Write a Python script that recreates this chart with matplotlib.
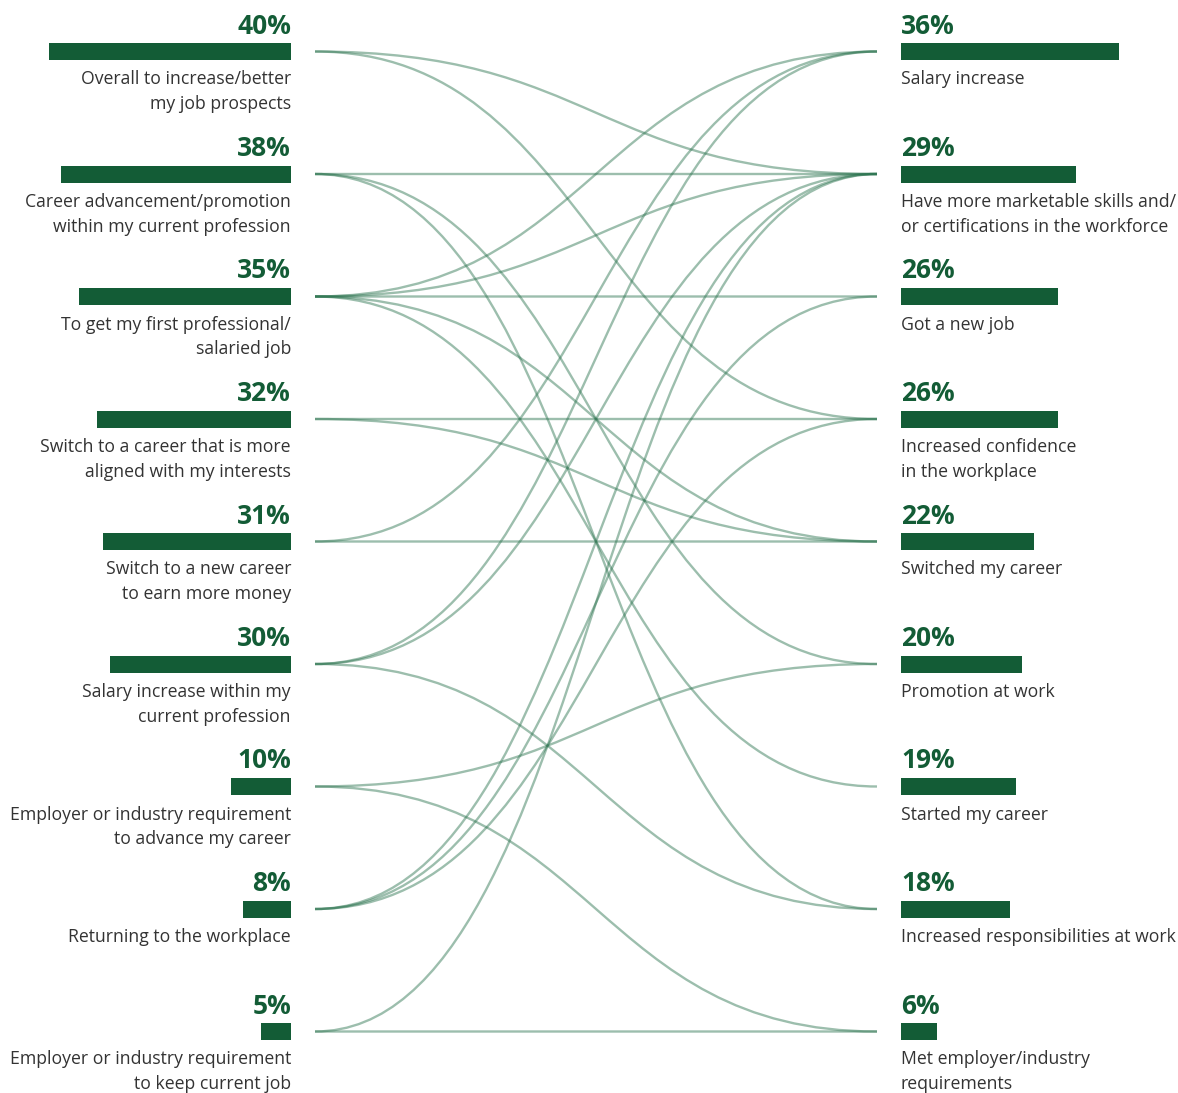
import matplotlib
matplotlib.use("Agg")
import matplotlib.pyplot as plt
from matplotlib.path import Path
from matplotlib.patches import PathPatch

plt.rcParams['font.family'] = ['Open Sans', 'DejaVu Sans']

# motivations (left) and outcomes (right), shares in percent
reasons = [
    "Overall to increase/better\nmy job prospects",
    "Career advancement/promotion\nwithin my current profession",
    "To get my first professional/\nsalaried job",
    "Switch to a career that is more\naligned with my interests",
    "Switch to a new career\nto earn more money",
    "Salary increase within my\ncurrent profession",
    "Employer or industry requirement\nto advance my career",
    "Returning to the workplace",
    "Employer or industry requirement\nto keep current job",
]
reason_pct = [40, 38, 35, 32, 31, 30, 10, 8, 5]

outcomes = [
    "Salary increase",
    "Have more marketable skills and/\nor certifications in the workforce",
    "Got a new job",
    "Increased confidence\nin the workplace",
    "Switched my career",
    "Promotion at work",
    "Started my career",
    "Increased responsibilities at work",
    "Met employer/industry\nrequirements",
]
outcome_pct = [36, 29, 26, 26, 22, 20, 19, 18, 6]

# which motivation links to which outcome (index pairs)
links = [
    (0, 1), (0, 3),
    (1, 1), (1, 5), (1, 7),
    (2, 0), (2, 1), (2, 2), (2, 4), (2, 6),
    (3, 3), (3, 4),
    (4, 4), (4, 0),
    (5, 0), (5, 1), (5, 7),
    (6, 5), (6, 8),
    (7, 1), (7, 2), (7, 3),
    (8, 1), (8, 8),
]

GREEN = "#135c36"
TEXT = "#333333"
LINK = "#2e7551"

W, H = 1178, 1093
fig = plt.figure(figsize=(W / 100, H / 100), dpi=100)
ax = fig.add_axes([0, 0, 1, 1])
ax.set_xlim(0, W)
ax.set_ylim(H, 0)
ax.axis("off")

row0, step = 51.5, 122.5
px_per_pct = 6.05
bar_h = 17
left_edge, right_edge = 291, 901
link_x0, link_x1 = 315, 877


def row_y(i):
    return row0 + i * step


# bars, values and labels
for i, (lab, p) in enumerate(zip(reasons, reason_pct)):
    y = row_y(i)
    w = p * px_per_pct
    ax.barh(y, w, height=bar_h, left=left_edge - w, color=GREEN)
    ax.text(left_edge, y - 18, f"{p}%", ha="right", va="baseline",
            fontsize=19, fontweight="bold", color=GREEN)
    ax.text(left_edge, y + 19, lab, ha="right", va="top",
            fontsize=12.7, color=TEXT, linespacing=1.48)

for i, (lab, p) in enumerate(zip(outcomes, outcome_pct)):
    y = row_y(i)
    ax.barh(y, p * px_per_pct, height=bar_h, left=right_edge, color=GREEN)
    ax.text(right_edge, y - 18, f"{p}%", ha="left", va="baseline",
            fontsize=19, fontweight="bold", color=GREEN)
    ax.text(right_edge, y + 19, lab, ha="left", va="top",
            fontsize=12.7, color=TEXT, linespacing=1.48)

# s-shaped connectors
xm = (link_x0 + link_x1) / 2
for a, b in links:
    ya, yb = row_y(a), row_y(b)
    verts = [(link_x0, ya), (xm, ya), (xm, yb), (link_x1, yb)]
    codes = [Path.MOVETO, Path.CURVE4, Path.CURVE4, Path.CURVE4]
    ax.add_patch(PathPatch(Path(verts, codes), fill=False, edgecolor=LINK,
                           lw=1.7, alpha=0.47, capstyle="butt"))

fig.savefig("out.png", dpi=100)
